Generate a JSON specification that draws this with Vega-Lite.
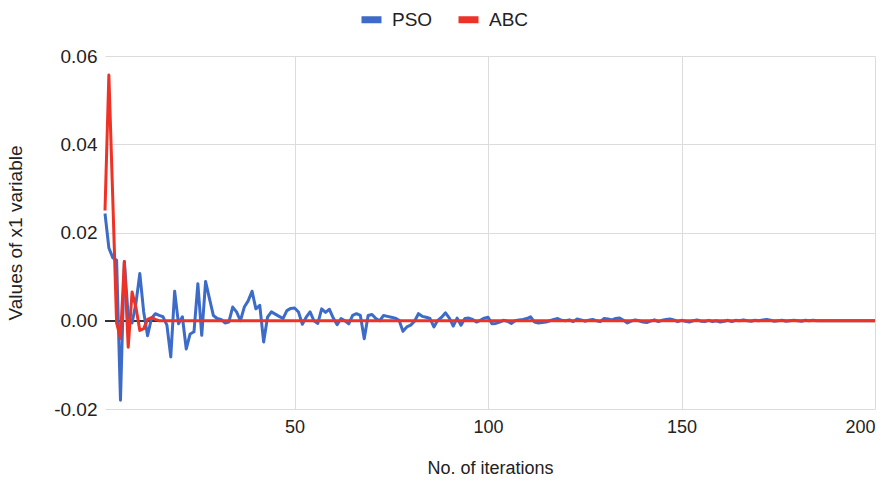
{
  "$schema": "https://vega.github.io/schema/vega-lite/v6.json",
  "width": 770,
  "height": 353,
  "autosize": {"type": "none"},
  "padding": {"left": 105, "top": 56, "right": 19, "bottom": 72},
  "background": "white",
  "config": {
    "font": "Liberation Sans",
    "view": {"stroke": null},
    "axis": {"labelFont": "Liberation Sans", "titleFont": "Liberation Sans", "labelColor": "#222", "titleColor": "#222", "labelFontSize": 18, "titleFontSize": 18, "titleFontWeight": "normal", "gridColor": "#dcdcdc", "gridWidth": 1, "domain": false, "ticks": false},
    "legend": {"labelFont": "Liberation Sans", "labelFontSize": 19, "labelColor": "#222"}
  },
  "data": {"values": [
    {"x":1,"PSO":0.0243,"ABC":0.025},{"x":2,"PSO":0.0165,"ABC":0.0557},{"x":3,"PSO":0.0143,"ABC":0.028},{"x":4,"PSO":0.0137,"ABC":-0.0005},{"x":5,"PSO":-0.018,"ABC":-0.004},
    {"x":6,"PSO":0.0134,"ABC":0.0134},{"x":7,"PSO":0.001,"ABC":-0.006},{"x":8,"PSO":-0.0005,"ABC":0.0065},{"x":9,"PSO":0.004,"ABC":0.003},{"x":10,"PSO":0.0107,"ABC":-0.0022},
    {"x":11,"PSO":0.002,"ABC":-0.0018},{"x":12,"PSO":-0.0034,"ABC":0.0003},{"x":13,"PSO":0.0005,"ABC":0.0007},{"x":14,"PSO":0.0016,"ABC":0.0003},{"x":15,"PSO":0.0012,"ABC":0},
    {"x":16,"PSO":0.0009,"ABC":0},{"x":17,"PSO":-0.001,"ABC":0},{"x":18,"PSO":-0.0082,"ABC":0},{"x":19,"PSO":0.0067,"ABC":0},{"x":20,"PSO":-0.0007,"ABC":0},
    {"x":21,"PSO":0.0009,"ABC":0},{"x":22,"PSO":-0.0064,"ABC":0},{"x":23,"PSO":-0.003,"ABC":0},{"x":24,"PSO":-0.0025,"ABC":0},{"x":25,"PSO":0.0084,"ABC":0},
    {"x":26,"PSO":-0.0033,"ABC":0},{"x":27,"PSO":0.0089,"ABC":0},{"x":28,"PSO":0.005,"ABC":0},{"x":29,"PSO":0.0012,"ABC":0},{"x":30,"PSO":0.0005,"ABC":0},
    {"x":31,"PSO":0.0003,"ABC":0},{"x":32,"PSO":-0.0005,"ABC":0},{"x":33,"PSO":-0.0003,"ABC":0},{"x":34,"PSO":0.0031,"ABC":0},{"x":35,"PSO":0.002,"ABC":0},
    {"x":36,"PSO":0.0,"ABC":0},{"x":37,"PSO":0.0031,"ABC":0},{"x":38,"PSO":0.0045,"ABC":0},{"x":39,"PSO":0.0067,"ABC":0},{"x":40,"PSO":0.0027,"ABC":0},
    {"x":41,"PSO":0.0035,"ABC":0},{"x":42,"PSO":-0.0048,"ABC":0},{"x":43,"PSO":0.0008,"ABC":0},{"x":44,"PSO":0.002,"ABC":0},{"x":45,"PSO":0.0015,"ABC":0},
    {"x":46,"PSO":0.001,"ABC":0},{"x":47,"PSO":0.0005,"ABC":0},{"x":48,"PSO":0.0023,"ABC":0},{"x":49,"PSO":0.0028,"ABC":0},{"x":50,"PSO":0.0029,"ABC":0},
    {"x":51,"PSO":0.002,"ABC":0},{"x":52,"PSO":-0.0008,"ABC":0},{"x":53,"PSO":0.0008,"ABC":0},{"x":54,"PSO":0.002,"ABC":0},{"x":55,"PSO":0.0,"ABC":0},
    {"x":56,"PSO":-0.0006,"ABC":0},{"x":57,"PSO":0.0027,"ABC":0},{"x":58,"PSO":0.0019,"ABC":0},{"x":59,"PSO":0.0026,"ABC":0},{"x":60,"PSO":0.0006,"ABC":0},
    {"x":61,"PSO":-0.0009,"ABC":0},{"x":62,"PSO":0.0005,"ABC":0},{"x":63,"PSO":0.0,"ABC":0},{"x":64,"PSO":-0.0007,"ABC":0},{"x":65,"PSO":0.0012,"ABC":0},
    {"x":66,"PSO":0.0016,"ABC":0},{"x":67,"PSO":0.0012,"ABC":0},{"x":68,"PSO":-0.0041,"ABC":0},{"x":69,"PSO":0.0012,"ABC":0},{"x":70,"PSO":0.0014,"ABC":0},
    {"x":71,"PSO":0.0005,"ABC":0},{"x":72,"PSO":0.0,"ABC":0},{"x":73,"PSO":0.0012,"ABC":0},{"x":74,"PSO":0.001,"ABC":0},{"x":75,"PSO":0.0008,"ABC":0},
    {"x":76,"PSO":0.0006,"ABC":0},{"x":77,"PSO":0.0001,"ABC":0},{"x":78,"PSO":-0.0024,"ABC":0},{"x":79,"PSO":-0.0014,"ABC":0},{"x":80,"PSO":-0.001,"ABC":0},
    {"x":81,"PSO":-0.0001,"ABC":0},{"x":82,"PSO":0.0016,"ABC":0},{"x":83,"PSO":0.001,"ABC":0},{"x":84,"PSO":0.0008,"ABC":0},{"x":85,"PSO":0.0005,"ABC":0},
    {"x":86,"PSO":-0.0014,"ABC":0},{"x":87,"PSO":0.0001,"ABC":0},{"x":88,"PSO":0.0008,"ABC":0},{"x":89,"PSO":0.0018,"ABC":0},{"x":90,"PSO":0.0006,"ABC":0},
    {"x":91,"PSO":-0.0012,"ABC":0},{"x":92,"PSO":0.0006,"ABC":0},{"x":93,"PSO":-0.001,"ABC":0},{"x":94,"PSO":0.0005,"ABC":0},{"x":95,"PSO":0.0006,"ABC":0},
    {"x":96,"PSO":0.0003,"ABC":0},{"x":97,"PSO":-0.0003,"ABC":0},{"x":98,"PSO":0.0001,"ABC":0},{"x":99,"PSO":0.0006,"ABC":0},{"x":100,"PSO":0.0008,"ABC":0},
    {"x":101,"PSO":-0.0007,"ABC":0},{"x":102,"PSO":-0.0006,"ABC":0},{"x":103,"PSO":-0.0003,"ABC":0},{"x":104,"PSO":0.0001,"ABC":0},{"x":105,"PSO":-0.0001,"ABC":0},
    {"x":106,"PSO":-0.0006,"ABC":0},{"x":107,"PSO":0.0,"ABC":0},{"x":108,"PSO":0.0002,"ABC":0},{"x":109,"PSO":0.0003,"ABC":0},{"x":110,"PSO":0.0005,"ABC":0},
    {"x":111,"PSO":0.0009,"ABC":0},{"x":112,"PSO":-0.0003,"ABC":0},{"x":113,"PSO":-0.0005,"ABC":0},{"x":114,"PSO":-0.0004,"ABC":0},{"x":115,"PSO":-0.0003,"ABC":0},
    {"x":116,"PSO":0.0,"ABC":0},{"x":117,"PSO":0.0003,"ABC":0},{"x":118,"PSO":0.0005,"ABC":0},{"x":119,"PSO":0.0001,"ABC":0},{"x":120,"PSO":0.0,"ABC":0},
    {"x":121,"PSO":0.0002,"ABC":0},{"x":122,"PSO":-0.0002,"ABC":0},{"x":123,"PSO":0.0004,"ABC":0},{"x":124,"PSO":0.0002,"ABC":0},{"x":125,"PSO":-0.0001,"ABC":0},
    {"x":126,"PSO":0.0001,"ABC":0},{"x":127,"PSO":0.0003,"ABC":0},{"x":128,"PSO":0.0,"ABC":0},{"x":129,"PSO":-0.0002,"ABC":0},{"x":130,"PSO":0.0005,"ABC":0},
    {"x":131,"PSO":0.0004,"ABC":0},{"x":132,"PSO":0.0002,"ABC":0},{"x":133,"PSO":0.0005,"ABC":0},{"x":134,"PSO":0.0006,"ABC":0},{"x":135,"PSO":0.0001,"ABC":0},
    {"x":136,"PSO":-0.0005,"ABC":0},{"x":137,"PSO":-0.0001,"ABC":0},{"x":138,"PSO":0.0002,"ABC":0},{"x":139,"PSO":0.0,"ABC":0},{"x":140,"PSO":-0.0003,"ABC":0},
    {"x":141,"PSO":-0.0004,"ABC":0},{"x":142,"PSO":-0.0001,"ABC":0},{"x":143,"PSO":0.0002,"ABC":0},{"x":144,"PSO":-0.0002,"ABC":0},{"x":145,"PSO":0.0001,"ABC":0},
    {"x":146,"PSO":0.0003,"ABC":0},{"x":147,"PSO":0.0004,"ABC":0},{"x":148,"PSO":0.0002,"ABC":0},{"x":149,"PSO":-0.0002,"ABC":0},{"x":150,"PSO":0.0001,"ABC":0},
    {"x":151,"PSO":-0.0001,"ABC":0},{"x":152,"PSO":-0.0003,"ABC":0},{"x":153,"PSO":0.0,"ABC":0},{"x":154,"PSO":0.0002,"ABC":0},{"x":155,"PSO":-0.0001,"ABC":0},
    {"x":156,"PSO":-0.0002,"ABC":0},{"x":157,"PSO":0.0001,"ABC":0},{"x":158,"PSO":-0.0002,"ABC":0},{"x":159,"PSO":0.0,"ABC":0},{"x":160,"PSO":-0.0003,"ABC":0},
    {"x":161,"PSO":-0.0001,"ABC":0},{"x":162,"PSO":0.0001,"ABC":0},{"x":163,"PSO":-0.0002,"ABC":0},{"x":164,"PSO":0.0001,"ABC":0},{"x":165,"PSO":0.0,"ABC":0},
    {"x":166,"PSO":0.0002,"ABC":0},{"x":167,"PSO":0.0,"ABC":0},{"x":168,"PSO":-0.0001,"ABC":0},{"x":169,"PSO":0.0001,"ABC":0},{"x":170,"PSO":0.0,"ABC":0},
    {"x":171,"PSO":0.0002,"ABC":0},{"x":172,"PSO":0.0003,"ABC":0},{"x":173,"PSO":0.0001,"ABC":0},{"x":174,"PSO":-0.0001,"ABC":0},{"x":175,"PSO":0.0,"ABC":0},
    {"x":176,"PSO":0.0001,"ABC":0},{"x":177,"PSO":-0.0001,"ABC":0},{"x":178,"PSO":0.0,"ABC":0},{"x":179,"PSO":0.0001,"ABC":0},{"x":180,"PSO":0.0,"ABC":0},
    {"x":181,"PSO":-0.0001,"ABC":0},{"x":182,"PSO":0.0001,"ABC":0},{"x":183,"PSO":0.0,"ABC":0},{"x":184,"PSO":0.0001,"ABC":0},{"x":185,"PSO":0.0,"ABC":0},
    {"x":186,"PSO":0,"ABC":0},{"x":187,"PSO":0,"ABC":0},{"x":188,"PSO":0,"ABC":0},{"x":189,"PSO":0,"ABC":0},{"x":190,"PSO":0,"ABC":0},
    {"x":191,"PSO":0,"ABC":0},{"x":192,"PSO":0,"ABC":0},{"x":193,"PSO":0,"ABC":0},{"x":194,"PSO":0,"ABC":0},{"x":195,"PSO":0,"ABC":0},
    {"x":196,"PSO":0,"ABC":0},{"x":197,"PSO":0,"ABC":0},{"x":198,"PSO":0,"ABC":0},{"x":199,"PSO":0,"ABC":0},{"x":200,"PSO":0,"ABC":0}
  ]},
  "encoding": {
    "x": {"field": "x", "type": "quantitative", "scale": {"domain": [1, 200], "nice": false, "zero": false},
      "axis": {"values": [50, 100, 150, 200], "grid": true, "labelPadding": 9, "title": "No. of iterations", "titleY": 50, "titleBaseline": "top", "titleX": 385}}
  },
  "layer": [
    {
      "mark": {"type": "rule", "color": "#333333", "strokeWidth": 1.5},
      "encoding": {"y": {"datum": 0, "type": "quantitative"}, "x": null}
    },
    {
      "mark": {"type": "line", "strokeWidth": 3, "strokeJoin": "round"},
      "encoding": {
        "y": {"field": "PSO", "type": "quantitative", "scale": {"domain": [-0.02, 0.06], "nice": false},
          "axis": {"values": [-0.02, 0, 0.02, 0.04, 0.06], "labelExpr": "datum.value < 0 ? '-' + format(-datum.value, '.2f') : format(datum.value, '.2f')", "grid": true, "labelPadding": 8, "labelFontSize": 19, "title": "Values of x1 variable", "titleFontSize": 19, "titleX": -80, "titleAnchor": "middle"}},
        "color": {"datum": "PSO", "type": "nominal", "scale": {"domain": ["PSO", "ABC"], "range": ["#3d6bc8", "#ee3226"]},
          "legend": {"title": null, "orient": "none", "direction": "horizontal", "legendX": 253, "legendY": -50, "symbolType": "stroke", "symbolSize": 400, "symbolStrokeWidth": 7, "labelOffset": 7, "columnPadding": 11}}
      }
    },
    {
      "mark": {"type": "line", "strokeWidth": 3, "strokeJoin": "round"},
      "encoding": {
        "y": {"field": "ABC", "type": "quantitative"},
        "color": {"datum": "ABC", "type": "nominal"}
      }
    }
  ]
}
